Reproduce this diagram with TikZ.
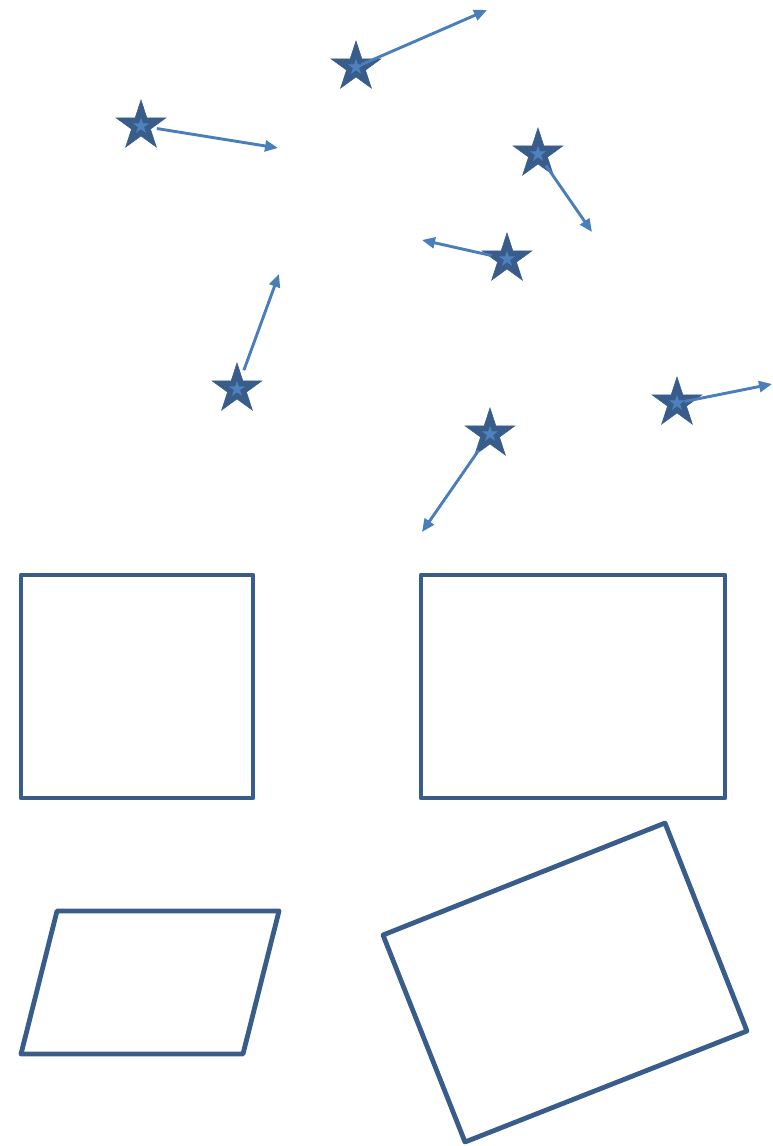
\documentclass[tikz,border=0pt]{standalone}
\usepackage{tikz}
\usetikzlibrary{arrows.meta,positioning,shapes.geometric}
\usepackage{xcolor}
\definecolor{shapeblue}{RGB}{56, 93, 138}
\definecolor{lightblue}{RGB}{79, 129, 189}
\definecolor{arrowblue}{RGB}{74, 126, 187}

\begin{document}
\begin{tikzpicture}[x=1pt,y=-1pt,
    starnode/.style={star, star points=5, star point ratio=2.618, minimum size=52pt,
        inner sep=0pt, fill=shapeblue, draw=shapeblue, line width=0.6pt},
    starcore/.style={star, star points=5, star point ratio=2.618, minimum size=17pt,
        inner sep=0pt, fill=lightblue},
    vecarrow/.style={arrowblue, line width=2.9pt, -{Triangle[length=13pt,width=11pt]}},
    outline/.style={shapeblue, line width=4.8pt, line join=round}]
    \useasboundingbox (0,0) rectangle (772,1146);

    % Stars with their direction vectors
    \foreach \name/\x/\y/\ex/\ey/\sh in {s1/141/126/278/148/16, s2/356/67/487/10/6,
        s3/538/154/592/232/14, s4/507/259/422/240/16, s5/237/389/279/274/20,
        s6/490/434/422/532/20, s7/677/403/772/384/8} {
        \node[starnode] (\name) at (\x,\y) {};
        \node[starcore] (\name c) at (\x,\y) {};
        \coordinate (\name e) at (\ex,\ey);
        \draw[vecarrow, shorten <=\sh pt] (\name.center) -- (\name e);
    }

    % Squares and rectangles
    \draw[outline] (21,575) rectangle (253,798);
    \draw[outline] (421,575) rectangle (725,798);

    % Sheared square
    \draw[outline] (57,911) -- (279,911) -- (243,1054) -- (21,1054) -- cycle;

    % Rotated rectangle
    \draw[outline] (383,935) -- (665,823) -- (747,1031) -- (465,1142) -- cycle;
\end{tikzpicture}
\end{document}
